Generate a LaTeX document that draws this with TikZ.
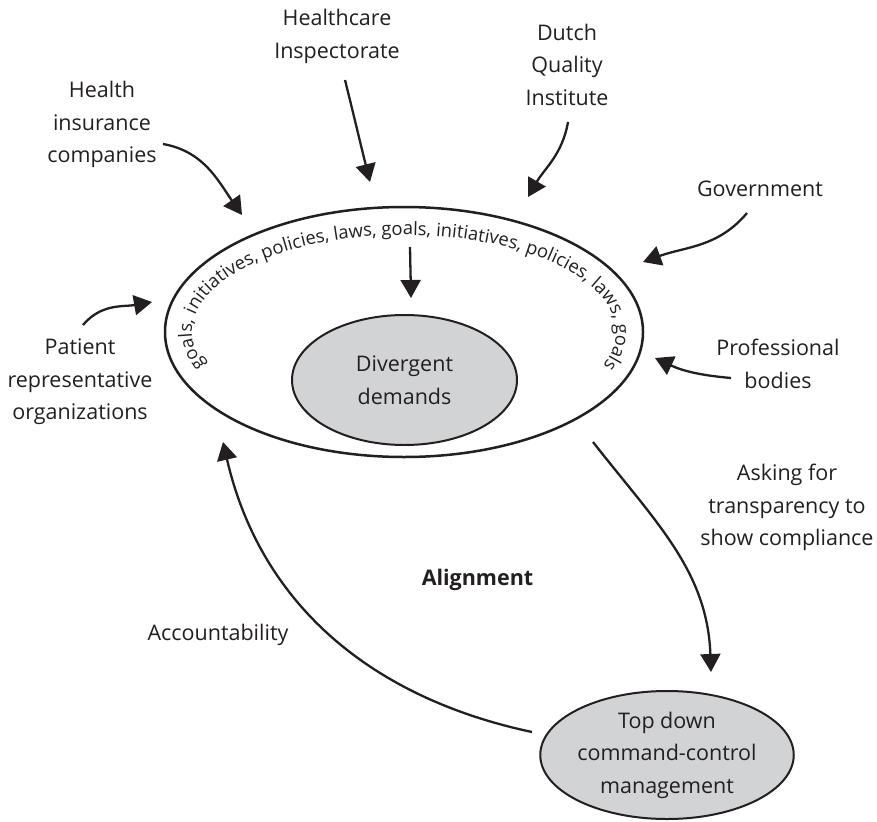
\documentclass[tikz,border=0pt]{standalone}
\usepackage{fontspec}
\setmainfont{Open Sans}
\usetikzlibrary{arrows.meta,shapes.geometric,decorations.text}
\definecolor{ink}{HTML}{231F20}
\definecolor{demandfill}{HTML}{D1D3D4}
\newcommand{\lblfont}{\fontsize{21.5}{32.5}\selectfont}
\newcommand{\ringfont}{\fontsize{18.4}{21}\selectfont}

\begin{document}
\begin{tikzpicture}[x=1pt,y=1pt,
    link/.style={line width=2.3pt,draw=ink,-{Triangle[length=18pt,width=20pt]}},
    label/.style={align=center,inner sep=0pt,text=ink,font=\lblfont},
    demand/.style={ellipse,draw=ink,line width=2pt,fill=demandfill,inner sep=0pt,
        align=center,text=ink,font=\lblfont}]
    \useasboundingbox (0,0) rectangle (877,-821);

    \node[ellipse,draw=ink,line width=2.5pt,minimum width=478pt,minimum height=250pt,inner sep=0pt]
        (ring) at (404,-332) {};
    \node[demand,minimum width=225pt,minimum height=130pt] (demands) at (404.5,-380) {Divergent\\demands};
    \node[demand,minimum width=228pt,minimum height=128pt] (topdown) at (667,-755)
        {Top down\\command-control\\management};

    \path[decorate,decoration={text along path,text align=center,
        text={|\ringfont\color{ink}|goals, initiatives, policies, laws, goals, initiatives, policies, laws, goals}}]
        ([shift={(205:212 and 97)}]ring.center) arc[start angle=205,end angle=-25,x radius=212,y radius=97];

    \node[label] (insurers) at (102,-124.5) {Health\\insurance\\companies};
    \node[label] (inspectorate) at (337,-36.5) {Healthcare\\Inspectorate};
    \node[label] (quality) at (567,-64.5) {Dutch\\Quality\\Institute};
    \node[label] (government) at (760,-189) {Government};
    \node[label] (professionals) at (778,-364) {Professional\\bodies};
    \node[label] (patients) at (80,-382) {Patient\\representative\\organizations};
    \node[label] (asking) at (787,-507.5) {Asking for\\transparency to\\show compliance};
    \node[label,font=\lblfont\bfseries] (alignment) at (477.5,-580) {Alignment};
    \node[label] (accountability) at (218,-635) {Accountability};

    \coordinate (insurers-from) at (163,-144);
    \coordinate (insurers-to) at (242,-215);
    \coordinate (inspectorate-from) at (345,-80);
    \coordinate (inspectorate-to) at (370,-182);
    \coordinate (quality-from) at (568,-122);
    \coordinate (quality-to) at (528,-197);
    \coordinate (government-from) at (747,-213);
    \coordinate (government-to) at (643,-262);
    \coordinate (professionals-from) at (731,-378);
    \coordinate (professionals-to) at (655,-358);
    \coordinate (patients-from) at (83,-325);
    \coordinate (patients-to) at (152,-302);
    \coordinate (rules-from) at (410,-247);
    \coordinate (rules-to) at (411,-298);
    \coordinate (asking-from) at (593,-442);
    \coordinate (asking-to) at (711,-672);
    \coordinate (account-from) at (532,-732);
    \coordinate (account-to) at (223,-442);

    \foreach \s/\o/\i in {insurers/-10/125,inspectorate/-76/104,quality/-100/60,government/-130/20,
        professionals/175/-25,patients/50/190,rules/-89/91,asking/-52/92,account/168/-77} {
        \draw[link] (\s-from) to[out=\o,in=\i] (\s-to);
    }
\end{tikzpicture}
\end{document}
